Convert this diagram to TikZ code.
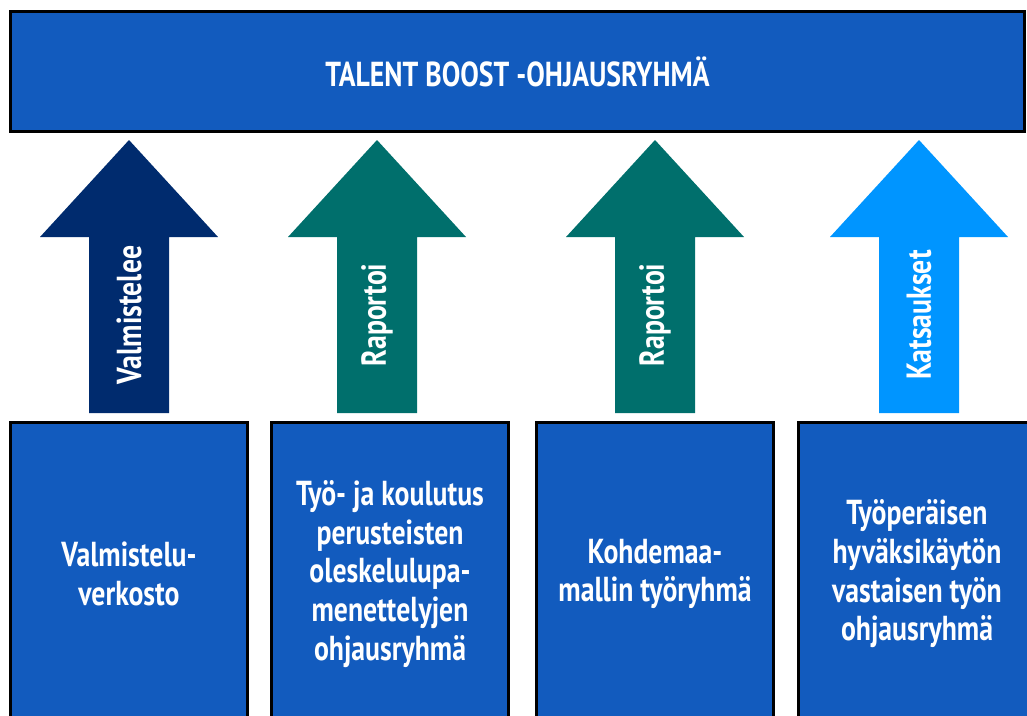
\documentclass[tikz,border=0pt]{standalone}
\usepackage{fontspec}
\setmainfont{PT Sans}[FakeStretch=0.8]
\usepackage{xcolor}
\usepackage{tikz}
\usetikzlibrary{positioning}

\definecolor{boardblue}{HTML}{125BBE}
\definecolor{navyarrow}{HTML}{002B6E}
\definecolor{tealarrow}{HTML}{006F6C}
\definecolor{skyarrow}{HTML}{0095FF}

\begin{document}
\begin{tikzpicture}[x=0.75pt, y=-0.75pt, every node/.style={font=\bfseries\fontsize{26}{29}\selectfont, text=white}]
    \tikzstyle{group} = [rectangle, draw=black, line width=2.25pt, fill=boardblue, align=center, inner sep=0pt]
    \tikzstyle{arrowtext} = [rotate=90, inner sep=0pt]

    \useasboundingbox (0,0) rectangle (1027,715);
    \clip (0,0) rectangle (1027,715);

    % steering group on top
    \node[group, minimum width=760.5pt, minimum height=90pt] (board) at (517.5,71.5) {TALENT BOOST -OHJAUSRYHMÄ};

    % working groups below
    \node[group, minimum width=177.75pt, minimum height=227.25pt] (prep) at (129,574) {Valmistelu-\\verkosto};
    \node[group, minimum width=177.75pt, minimum height=227.25pt] (permits) at (390,574) {Työ- ja koulutus\\perusteisten\\oleskelulupa-\\menettelyjen\\ohjausryhmä};
    \node[group, minimum width=177.75pt, minimum height=227.25pt] (target) at (655,574) {Kohdemaa-\\mallin työryhmä};
    \node[group, minimum width=177.75pt, minimum height=227.25pt] (abuse) at (917,574) {Työperäisen\\hyväksikäytön\\vastaisen työn\\ohjausryhmä};

    % block arrows up to the board
    \foreach \cx/\col/\lbl [count=\i] in {129/navyarrow/Valmistelee, 377/tealarrow/Raportoi, 655/tealarrow/Raportoi, 919/skyarrow/Katsaukset} {
        \fill[\col] (\cx-40,413) -- (\cx-40,237) -- (\cx-89,237) -- (\cx,140) -- (\cx+89,237) -- (\cx+40,237) -- (\cx+40,413) -- cycle;
        \node[arrowtext] (lbl\i) at (\cx,315) {\lbl};
    }
\end{tikzpicture}
\end{document}
